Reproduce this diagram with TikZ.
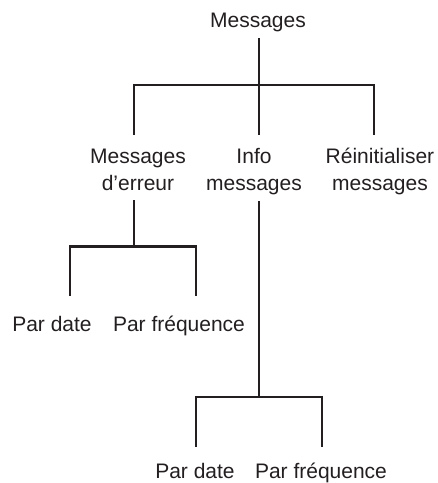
\documentclass[tikz,border=0pt]{standalone}
\usepackage{fontspec}
\setmainfont{Liberation Sans}
\usetikzlibrary{positioning}
\definecolor{ink}{HTML}{231F20}

\begin{document}
\begin{tikzpicture}[x=1pt, y=-1pt, line width=2.5pt, draw=ink,
  txt/.style={font=\fontsize{21}{27}\selectfont, align=center, inner sep=0pt, anchor=base, text=ink}]

    \useasboundingbox (0,0) rectangle (438,483);

    % --- Root ---
    \node[txt] (root) at (258,27.5) {Messages};

    % --- Second level (base = last line) ---
    \node[txt] (erreur) at (138,190) {Messages\\d’erreur};
    \node[txt] (info) at (254,190) {Info\\messages};
    \node[txt] (reinit) at (380,190) {Réinitialiser\\messages};

    % --- Third level ---
    \node[txt] (date1) at (52,331.5) {Par date};
    \node[txt] (freq1) at (179,331.5) {Par fréquence};
    \node[txt] (date2) at (195,478) {Par date};
    \node[txt] (freq2) at (321,478) {Par fréquence};

    % --- Line ends ---
    \coordinate (root-out) at (259,38);
    \coordinate (erreur-in) at (134,135);
    \coordinate (info-in) at (259,135);
    \coordinate (reinit-in) at (374,135);
    \coordinate (erreur-out) at (134,200);
    \coordinate (info-out) at (259,201);
    \coordinate (date1-in) at (70,296);
    \coordinate (freq1-in) at (196,296);
    \coordinate (date2-in) at (196,447);
    \coordinate (freq2-in) at (322,447);

    % --- Connectors ---
    \draw (root-out) -- ++(0,47) -| (erreur-in);
    \draw (root-out) -- ++(0,47) -| (reinit-in);
    \draw (root-out) -- (info-in);

    \draw (erreur-out) -- ++(0,46.5) -| (date1-in);
    \draw (erreur-out) -- ++(0,46.5) -| (freq1-in);

    \draw (info-out) -- ++(0,196) -| (date2-in);
    \draw (info-out) -- ++(0,196) -| (freq2-in);

\end{tikzpicture}
\end{document}
